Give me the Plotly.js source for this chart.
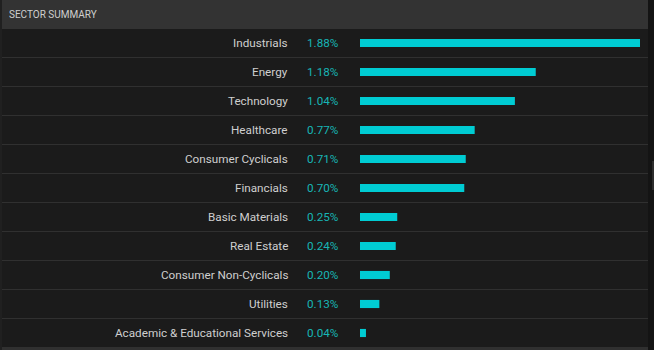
<!DOCTYPE html>
<html><head><meta charset="utf-8">
<script src="https://cdn.plot.ly/plotly-3.0.1.min.js"></script>
<style>html,body{margin:0;padding:0;background:#1b1b1b;}#chart{width:654px;height:350px;}</style>
</head><body><div id="chart"></div>
<script>
const sectors = ["Industrials","Energy","Technology","Healthcare","Consumer Cyclicals","Financials","Basic Materials","Real Estate","Consumer Non-Cyclicals","Utilities","Academic & Educational Services"];
const changes = [1.88,1.18,1.04,0.77,0.71,0.70,0.25,0.24,0.20,0.13,0.04];
const title = "SECTOR SUMMARY";

const W=654,H=350;
const px=v=>v/W, py=v=>1-v/H;
const n=sectors.length;

const annotations=[];
sectors.forEach((s,i)=>{
  annotations.push({xref:'paper',yref:'y',x:px(290),y:s,text:s,showarrow:false,xanchor:'right',yanchor:'middle',
    font:{family:'Roboto, Arial, sans-serif',size:11.7,color:'#cfcfcf'}});
  annotations.push({xref:'paper',yref:'y',x:px(341),y:s,text:changes[i].toFixed(2)+'%',showarrow:false,xanchor:'right',yanchor:'middle',
    font:{family:'Roboto, Arial, sans-serif',size:11.7,color:'#17b5b5'}});
});
annotations.push({xref:'paper',yref:'paper',x:px(7),y:py(15),text:title,showarrow:false,xanchor:'left',yanchor:'middle',
  font:{family:'Roboto, Arial, sans-serif',size:10,color:'#cfcfcf'}});

const shapes=[
  {type:'rect',xref:'paper',yref:'paper',x0:px(2),x1:px(648),y0:py(0),y1:py(29),fillcolor:'#333333',line:{width:0},layer:'below'},
  {type:'rect',xref:'paper',yref:'paper',x0:0,x1:px(2),y0:0,y1:1,fillcolor:'#202020',line:{width:0},layer:'below'},
  {type:'rect',xref:'paper',yref:'paper',x0:px(2),x1:px(648),y0:py(350),y1:py(347),fillcolor:'#303030',line:{width:0},layer:'below'},
  {type:'rect',xref:'paper',yref:'paper',x0:px(648),x1:1,y0:0,y1:1,fillcolor:'#141414',line:{width:0},layer:'below'},
  {type:'rect',xref:'paper',yref:'paper',x0:px(652),x1:1,y0:py(190),y1:py(161),fillcolor:'#2c2c2c',line:{width:0},layer:'below'}
];
for(let k=0;k<n-1;k++){
  shapes.push({type:'line',xref:'paper',yref:'y',x0:px(2),x1:px(648),y0:k+0.5,y1:k+0.5,line:{color:'#303030',width:1},layer:'below'});
}

const trace={type:'bar',orientation:'h',y:sectors,x:changes,width:0.28,marker:{color:'#00ccd3'},hoverinfo:'skip'};

const top0=43, rowH=29;
const layout={
  width:W,height:H,margin:{l:0,r:0,t:0,b:0},
  paper_bgcolor:'#1b1b1b',plot_bgcolor:'rgba(0,0,0,0)',
  showlegend:false,
  xaxis:{domain:[px(360),px(640)],range:[0,1.88],visible:false,fixedrange:true},
  yaxis:{type:'category',categoryorder:'array',categoryarray:sectors,
    range:[(n-1)+(H-(top0+(n-1)*rowH))/rowH, -top0/rowH],visible:false,fixedrange:true},
  annotations:annotations,shapes:shapes
};
Plotly.newPlot('chart',[trace],layout,{displayModeBar:false,staticPlot:true});
</script></body></html>
